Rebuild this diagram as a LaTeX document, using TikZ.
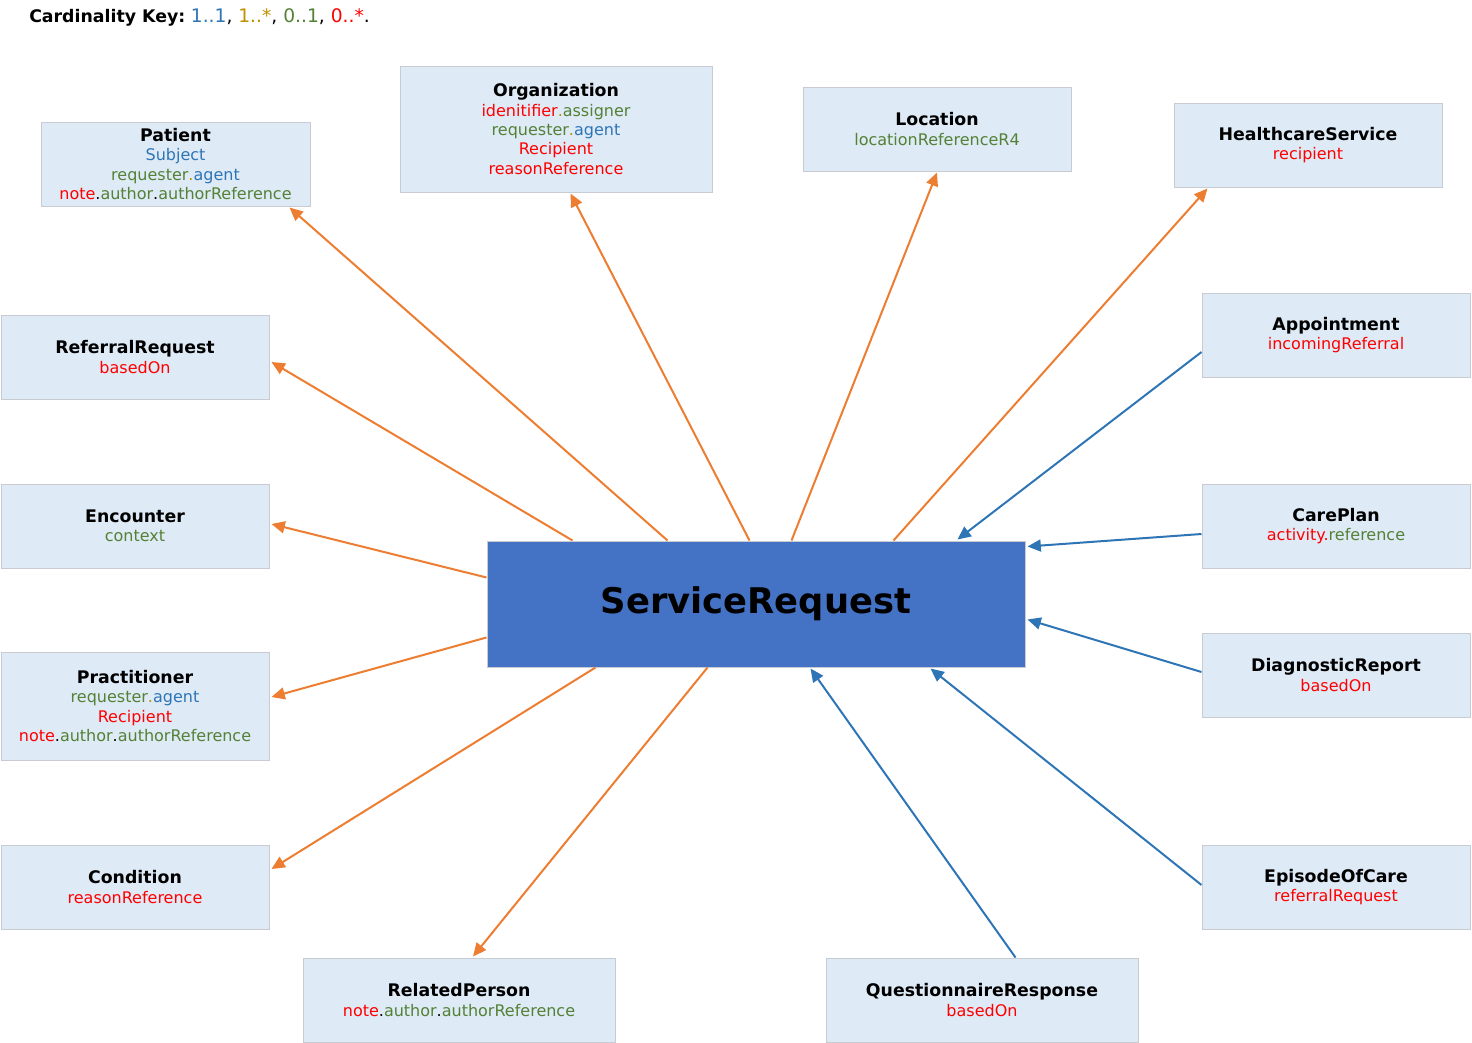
\documentclass[tikz,border=0pt]{standalone}
\usepackage{fontspec}
\setmainfont{DejaVu Sans}
\usetikzlibrary{arrows.meta,calc}
\definecolor{cblue}{HTML}{2E75B6}
\definecolor{cgold}{HTML}{BF9000}
\definecolor{cgreen}{HTML}{538135}
\definecolor{cred}{HTML}{FF0000}
\definecolor{corange}{HTML}{ED7D31}
\definecolor{boxfill}{HTML}{DEEAF6}
\definecolor{boxline}{HTML}{C8CCD2}
\definecolor{srfill}{HTML}{4472C4}
\newcommand{\cBl}[1]{\textcolor{cblue}{#1}}
\newcommand{\cGo}[1]{\textcolor{cgold}{#1}}
\newcommand{\cGr}[1]{\textcolor{cgreen}{#1}}
\newcommand{\cRe}[1]{\textcolor{cred}{#1}}
\newcommand{\ttl}[1]{{\fontsize{13}{16}\selectfont\bfseries #1}}
\tikzset{
  entity/.style={draw=boxline, fill=boxfill, line width=0.75pt, inner sep=0pt, align=center,
    font=\fontsize{12}{14.6}\selectfont, minimum height=63pt},
  w268/.style={minimum width=201pt},
  w312/.style={minimum width=234pt},
  outarrow/.style={draw=corange, line width=1.5pt, -{Triangle[length=10pt,width=9pt]}},
  inarrow/.style={draw=cblue, line width=1.5pt, -{Triangle[length=10pt,width=9pt]}},
}
\begin{document}
\begin{tikzpicture}[x=0.75pt,y=-0.75pt]
\useasboundingbox (0,0) rectangle (1472,1043);
\node[anchor=west, inner sep=0pt] (key) at (29,17) {\ttl{Cardinality Key:} \fontsize{14}{16}\selectfont\cBl{1..1}, \cGo{1..*}, \cGr{0..1}, \cRe{0..*}.};

\node[draw=boxline, fill=srfill, line width=0.75pt, minimum width=403.5pt, minimum height=94.5pt, inner sep=0pt,
  font=\fontsize{26.5}{30}\selectfont\bfseries] (sr) at (756,604) {ServiceRequest};

\node[entity, minimum width=201.75pt] (pat) at (175.5,164) {\ttl{Patient}\\ \cBl{Subject}\\ \cGr{requester}\cGo{.}\cBl{agent}\\ \cRe{note}.\cGr{author}.\cGr{authorReference}};
\node[entity, w312, minimum height=94.5pt] (org) at (556,129) {\ttl{Organization}\\ \cRe{idenitifier}\cGo{.}\cGr{assigner}\\ \cGr{requester}\cGo{.}\cBl{agent}\\ \cRe{Recipient}\\ \cRe{reasonReference}};
\node[entity, w268] (loc) at (937,129) {\ttl{Location}\\ \cGr{locationReferenceR4}};
\node[entity, w268] (hcs) at (1308,145) {\ttl{HealthcareService}\\ \cRe{recipient}};
\node[entity, w268] (ref) at (135,357) {\ttl{ReferralRequest}\\ \cRe{basedOn}};
\node[entity, w268] (app) at (1336,335) {\ttl{Appointment}\\ \cRe{incomingReferral}};
\node[entity, w268] (enc) at (135,526) {\ttl{Encounter}\\ \cGr{context}};
\node[entity, w268] (cp) at (1336,526) {\ttl{CarePlan}\\ \cRe{activity.}\cGr{reference}};
\node[entity, w268, minimum height=81pt] (pra) at (135,706) {\ttl{Practitioner}\\ \cGr{requester}\cGo{.}\cBl{agent}\\ \cRe{Recipient}\\ \cRe{note}.\cGr{author}.\cGr{authorReference}};
\node[entity, w268] (dr) at (1336,675) {\ttl{DiagnosticReport}\\ \cRe{basedOn}};
\node[entity, w268] (con) at (135,887) {\ttl{Condition}\\ \cRe{reasonReference}};
\node[entity, w268] (eoc) at (1336,887) {\ttl{EpisodeOfCare}\\ \cRe{referralRequest}};
\node[entity, w312] (rel) at (459,1000) {\ttl{RelatedPerson}\\ \cRe{note}.\cGr{author}.\cGr{authorReference}};
\node[entity, w312] (qr) at (982,1000) {\ttl{QuestionnaireResponse}\\ \cRe{basedOn}};

% outgoing references (orange)
\draw[outarrow] ($(sr.north west)+(181,0)$) -- ($(pat.south west)+(249,1)$);
\draw[outarrow] ($(sr.north west)+(263,0)$) -- ($(org.south west)+(171,1)$);
\draw[outarrow] ($(sr.north west)+(305,0)$) -- ($(loc.south)+(0,1)$);
\draw[outarrow] ($(sr.north west)+(407,0)$) -- ($(hcs.south west)+(34,1)$);
\draw[outarrow] ($(sr.north west)+(86,0)$) -- ($(ref.east)+(2,5)$);
\draw[outarrow] ($(sr.north west)+(0,37)$) -- ($(enc.east)+(2,-2)$);
\draw[outarrow] ($(sr.north west)+(0,97)$) -- ($(pra.east)+(2,-9)$);
\draw[outarrow] ($(sr.south west)+(109,0)$) -- ($(con.east)+(2,-18)$);
\draw[outarrow] ($(sr.south west)+(221,0)$) -- ($(rel.north)+(14,-1)$);

% incoming references (blue)
\draw[inarrow] ($(app.west)+(0,17)$) -- ($(sr.north west)+(471,-1)$);
\draw[inarrow] ($(cp.west)+(0,8)$) -- ($(sr.north east)+(2,6)$);
\draw[inarrow] ($(dr.west)+(0,-3)$) -- ($(sr.north east)+(2,79)$);
\draw[inarrow] ($(eoc.west)+(0,-2)$) -- ($(sr.south west)+(444,1)$);
\draw[inarrow] ($(qr.north west)+(190,0)$) -- ($(sr.south west)+(324,1)$);
\end{tikzpicture}
\end{document}
